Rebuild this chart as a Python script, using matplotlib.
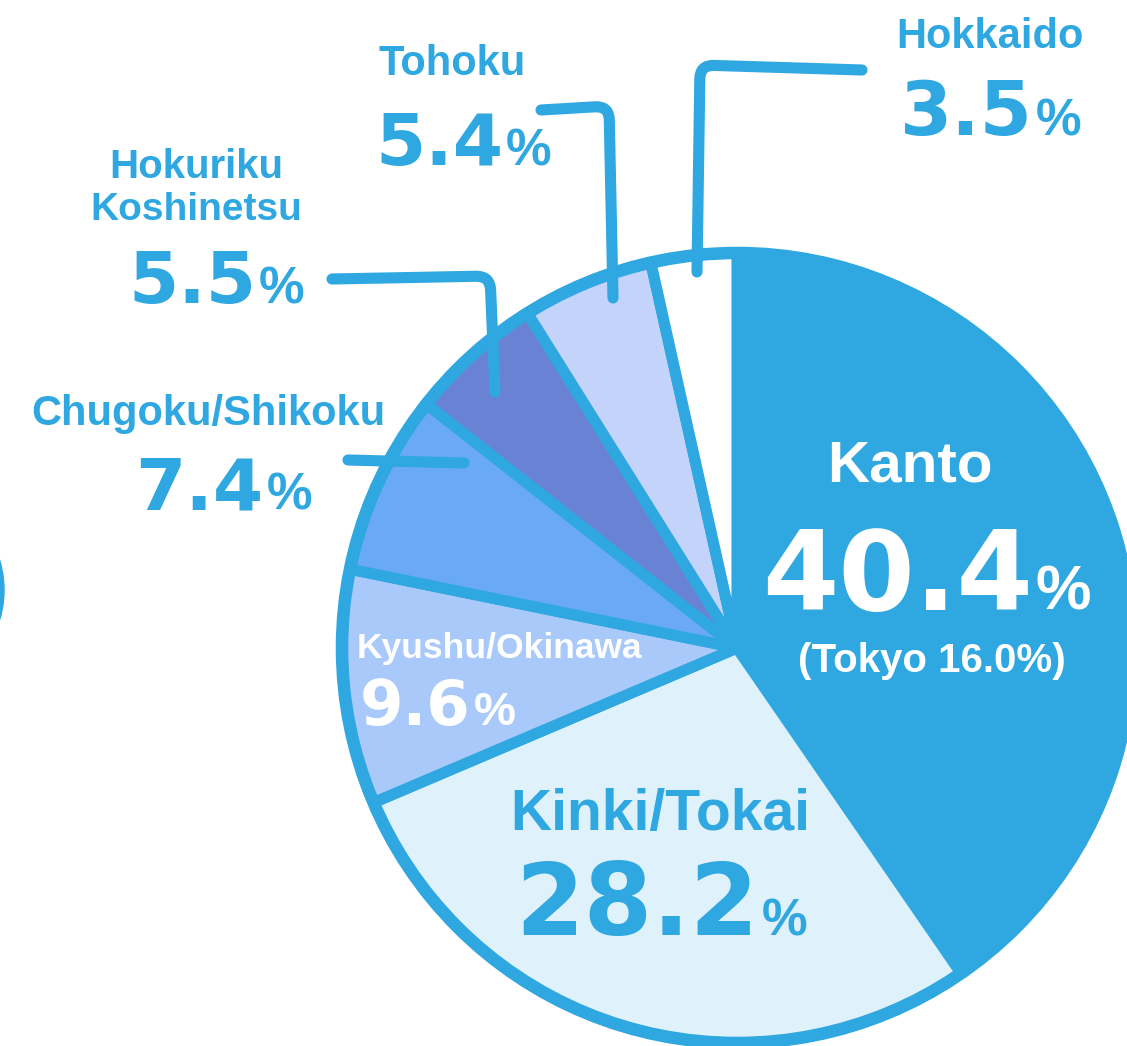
import matplotlib
matplotlib.use("Agg")
import matplotlib.pyplot as plt
from matplotlib.patches import Circle, PathPatch
from matplotlib.path import Path

# share of total by region (%), clockwise from 12 o'clock
regions = ["Kanto", "Kinki/Tokai", "Kyushu/Okinawa", "Chugoku/Shikoku",
           "Hokuriku\nKoshinetsu", "Tohoku", "Hokkaido"]
shares = [40.4, 28.2, 9.6, 7.4, 5.5, 5.4, 3.5]
tokyo_share = 16.0
colors = ["#2fa7e0", "#dff1fa", "#a8c9fa", "#6aaaf4", "#6a82d4", "#c3d3fa", "#ffffff"]

BLUE = "#2fa7e0"
W, H = 1127, 1046
WORD = "Liberation Sans"
NUM = "DejaVu Sans"

fig = plt.figure(figsize=(W / 100, H / 100), dpi=100)
ax = fig.add_axes([0, 0, 1, 1])

def Y(py):
    return H - py

cx, cy, r = 737, 648, 395
ax.pie(shares, colors=colors, startangle=90, counterclock=False,
       center=(cx, Y(cy)), radius=r, frame=True,
       wedgeprops=dict(edgecolor=BLUE, linewidth=8, joinstyle="round"))
ax.add_patch(Circle((cx, Y(cy)), r, fill=False, edgecolor=BLUE, lw=9, zorder=3))
ax.set_xlim(0, W)
ax.set_ylim(0, H)
ax.set_aspect("equal")
ax.axis("off")

# sliver of another drawing at the left edge
ax.add_patch(Circle((-100, Y(590)), 104, color=BLUE, zorder=1))

# leader lines: start, corner, end (rounded corner)
leaders = [
    [(697, 272), (700, 65), (862, 70)],
    [(541, 110), (609, 106), (613, 298)],
    [(332, 279), (490, 276), (495, 392)],
]
rad = 14
for (p0, pc, p1) in leaders:
    def toward(a, b, d):
        dx, dy = b[0] - a[0], b[1] - a[1]
        n = (dx * dx + dy * dy) ** 0.5
        return (a[0] + dx / n * d, a[1] + dy / n * d)
    a = toward(pc, p0, rad)
    b = toward(pc, p1, rad)
    verts = [p0, a, pc, b, p1]
    verts = [(x, Y(y)) for x, y in verts]
    codes = [Path.MOVETO, Path.LINETO, Path.CURVE3, Path.CURVE3, Path.LINETO]
    ax.add_patch(PathPatch(Path(verts, codes), fill=False, edgecolor=BLUE, lw=8,
                           capstyle="round", joinstyle="round", zorder=4))
ax.plot([348, 464], [Y(460), Y(463)], color=BLUE, lw=8,
        solid_capstyle="round", zorder=4)

fig.canvas.draw()
renderer = fig.canvas.get_renderer()

def number(x, base, val, size, psize, color=BLUE):
    t = ax.text(x, Y(base), f"{val:.1f}", fontsize=size, family=NUM, weight="bold",
                color=color, ha="left", va="baseline", zorder=5)
    bb = t.get_window_extent(renderer).transformed(ax.transData.inverted())
    ax.text(bb.x1 + 3, Y(base), "%", fontsize=psize, family=WORD, weight="bold",
            color=color, ha="left", va="baseline", zorder=5)

def name(x, base, txt, size, color=BLUE, ha="center"):
    ax.text(x, Y(base), txt, fontsize=size, family=WORD, weight="bold",
            color=color, ha=ha, va="baseline", zorder=5)

# Kanto
name(910, 482, regions[0], 42, "white")
number(762, 610, shares[0], 79, 45, "white")
ax.text(932, Y(672), f"(Tokyo {tokyo_share:.1f}%)", fontsize=29, family=WORD,
        weight="bold", color="white", ha="center", va="baseline", zorder=5)
# Kinki/Tokai
name(510, 830, regions[1], 41, ha="left")
number(515, 935, shares[1], 71, 37)
# Kyushu/Okinawa
name(357, 658, regions[2], 25.5, "white", ha="left")
number(360, 725, shares[2], 45, 34, "white")
# Chugoku/Shikoku
name(208, 425, regions[3], 30)
number(135, 510, shares[3], 52, 37)
# Hokuriku Koshinetsu
l1, l2 = regions[4].split("\n")
name(196, 178, l1, 29)
name(196, 220, l2, 28)
number(128, 303, shares[4], 52, 37)
# Tohoku
name(452, 75, regions[5], 30)
number(375, 165, shares[5], 52, 37)
# Hokkaido
name(990, 48, regions[6], 30)
number(900, 135, shares[6], 54, 37)

fig.savefig("out.png", dpi=100)
